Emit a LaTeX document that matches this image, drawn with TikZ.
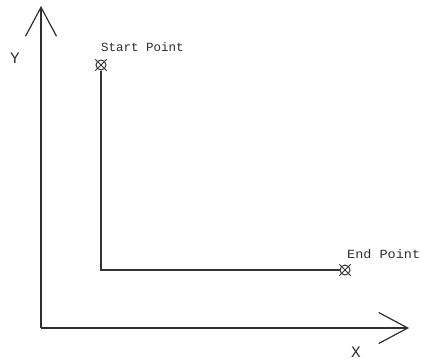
\documentclass[tikz,border=0pt]{standalone}
\usepackage{fontspec}
\setmainfont{Liberation Mono}
\usepackage{tikz}
\usetikzlibrary{arrows.meta,positioning}
\definecolor{axisink}{HTML}{2E2E2E}
\definecolor{pathink}{HTML}{333333}

\begin{document}
\begin{tikzpicture}[
    x=1pt, y=-1pt,
    every node/.style={font=\fontsize{12.5}{14}\selectfont, text=axisink},
    axislabel/.style={font=\fontsize{16}{18}\selectfont},
    axis/.style={axisink, line width=1.6pt, -{Straight Barb[length=29pt, width=31pt, line width=1.2pt]}},
    route/.style={pathink, line width=1.3pt},
    pointmark/.style={circle, draw=pathink, line width=1pt, minimum size=10pt, inner sep=0pt},
  ]
  \useasboundingbox (0,0) rectangle (422,361);

  % axes
  \coordinate (origin) at (41,328);
  \coordinate (ytip) at (41,6);
  \coordinate (xtip) at (409,328);
  \draw[axis] (origin) -- (ytip);
  \draw[axis] (origin) -- (xtip);
  \node[axislabel] (ylabel) at (15,58) {Y};
  \node[axislabel] (xlabel) at (356,352) {X};

  % start and end points
  \node[pointmark] (start) at (101,65) {};
  \node[pointmark] (finish) at (345,270) {};
  \foreach \m in {start,finish}{
    \draw[pathink, line width=0.9pt, shorten <=-2.5pt, shorten >=-2.5pt]
      (\m.north west) -- (\m.south east);
    \draw[pathink, line width=0.9pt, shorten <=-2.5pt, shorten >=-2.5pt]
      (\m.north east) -- (\m.south west);
  }
  \node[anchor=base west, inner sep=0pt] (startlabel) at (101,52) {Start Point};
  \node[anchor=base west, inner sep=0pt, xscale=1.08] (endlabel) at (347,258) {End Point};

  % path
  \coordinate (corner) at (101,270);
  \draw[route] (start) -- (corner) -- (finish);
\end{tikzpicture}
\end{document}
